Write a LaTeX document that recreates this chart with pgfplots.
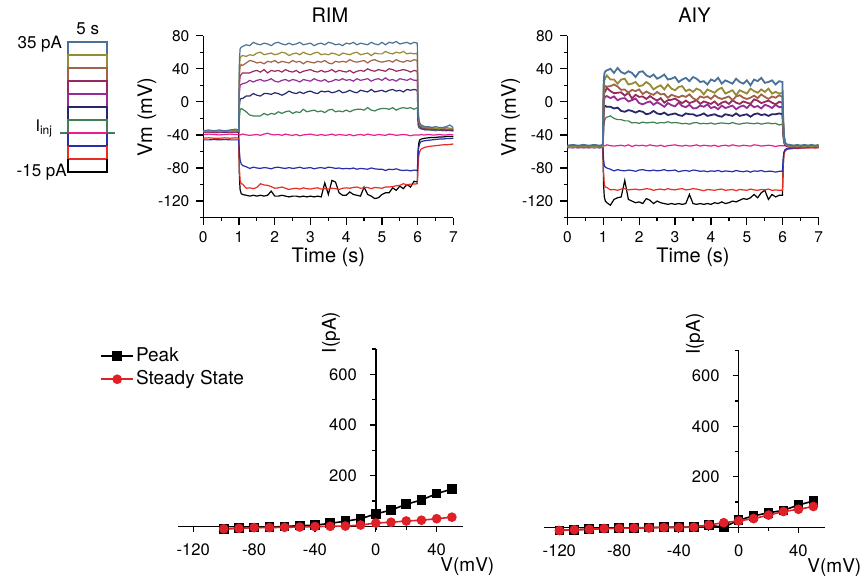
\documentclass[border=0pt]{standalone}
\usepackage{fontspec}
\setmainfont{TeX Gyre Heros}
\usepackage{pgfplots}
\usepackage{pgfplotstable}
\pgfplotsset{compat=1.18}
\newcommand{\fs}[1]{\fontsize{#1}{#1}\selectfont}

\definecolor{cA}{RGB}{74,114,150}
\definecolor{cB}{RGB}{150,138,52}
\definecolor{cC}{RGB}{160,98,72}
\definecolor{cD}{RGB}{150,42,92}
\definecolor{cE}{RGB}{150,45,150}
\definecolor{cF}{RGB}{40,40,105}
\definecolor{cG}{RGB}{62,128,84}
\definecolor{cH}{RGB}{232,30,140}
\definecolor{cI}{RGB}{40,45,170}
\definecolor{cJ}{RGB}{232,45,35}
\definecolor{cK}{RGB}{0,0,0}
\definecolor{ivred}{RGB}{222,32,40}

% membrane potential traces, one column per injected current (35 ... -15 pA)
\pgfplotstableread{
t a b c d e f g h i j k
0 -35 -36 -35 -37 -36 -37 -36 -39.5 -46 -44 -37
0.15 -34 -36 -36 -36 -37 -36 -35 -39 -46 -43.5 -36.5
0.3 -35 -35 -36 -37 -36 -37 -36 -39.5 -45.5 -44 -37
0.45 -34 -36 -35 -36 -37 -36 -36 -40 -46 -44 -37
0.6 -35 -35 -36 -36 -36 -37 -35 -39.5 -45.5 -43.5 -36.5
0.75 -34 -36 -35 -37 -36 -36 -36 -39 -46 -44 -37
0.9 -33 -35 -36 -36 -37 -36 -34 -39.5 -46 -43.5 -36
0.99 -34 -35 -35 -36 -36 -37 -35 -39.5 -46 -44 -37
1.01 50 40 30 20 10 -5 -20 -40 -60 -80 -90
1.03 64 53 43 31 20 3 -10 -40 -70 -95 -106
1.06 66 55 45 33 21 4 -8 -39.5 -75 -99 -111
1.1 67 56 44 35 22 4 -9 -39 -77 -99.5 -112
1.2 69 55 47 35 23 7 -12 -40 -78.5 -104.5 -113
1.3 68 57 50 35 26 7 -16 -40.5 -80.5 -104 -114
1.4 72 56 49 37 24 10 -17 -40 -79 -105 -113
1.5 70 59 47 38 26 8 -17 -39.5 -80 -103.5 -114
1.6 69 60 48 36 27 7 -17 -40.5 -80.5 -99 -113
1.7 71 57 46 39 25 10 -14 -39 -79.5 -100.5 -114
1.8 70 58 49 35 26 10 -16 -38 -80 -101 -113
1.9 68 59 48 38 28 9 -14 -39.5 -81 -102.5 -108
2.0 71 57 50 37 25 11 -15 -40 -79.5 -104.5 -114
2.1 72 58 47 38 24 10 -12 -39.5 -79 -104 -114
2.2 70 60 49 36 26 8 -14 -40.5 -80 -103 -113
2.3 69 59 48 39 27 10 -12 -39 -80.5 -104.5 -114
2.4 71 56 47 37 25 13 -11 -40 -79.5 -106 -115
2.5 69 58 50 36 27 11 -14 -40.5 -80.5 -105 -114
2.6 70 59 48 38 26 10 -12 -39.5 -80 -104.5 -114
2.7 72 57 49 35 24 12 -13 -41 -79 -105.5 -115
2.8 69 60 46 37 27 10 -9 -40 -80.5 -104 -114
2.9 70 58 49 38 26 12 -12 -39.5 -80 -105 -115
3.0 71 57 48 39 25 13 -11 -39 -79.5 -105.5 -114
3.1 68 59 47 37 28 11 -10 -40 -81 -104.5 -115
3.2 70 60 49 36 26 10 -12 -40.5 -80 -104 -114
3.3 71 57 48 38 25 13 -11 -39.5 -79.5 -105.5 -115
3.4 69 58 50 36 27 12 -13 -40.5 -80.5 -105 -98
3.5 72 57 47 37 24 13 -10 -40 -79 -105.5 -112
3.6 71 59 46 39 25 11 -9 -39 -79.5 -104.5 -95
3.7 69 58 49 36 27 12 -12 -40.5 -80.5 -105 -97
3.8 70 56 48 38 26 14 -11 -39.5 -80 -106 -110
3.9 68 59 49 37 28 11 -12 -40 -81 -104.5 -113
4.0 71 58 48 36 26 12 -10 -40.5 -80.5 -104 -113
4.1 70 57 51 38 27 14 -12 -39.5 -81 -104.5 -109
4.2 72 59 49 35 25 12 -10 -41 -80 -103.5 -112
4.3 69 60 48 37 28 11 -9 -40 -81.5 -103 -113
4.4 71 57 49 38 26 14 -9 -39.5 -80.5 -104.5 -114
4.5 70 58 50 37 27 13 -10 -40.5 -81 -104 -103
4.6 69 59 47 40 28 12 -7 -39 -81.5 -103.5 -112
4.7 72 56 50 38 25 15 -10 -40 -80 -105 -114
4.8 70 59 51 37 27 12 -11 -40.5 -81 -103.5 -117
4.9 69 58 49 39 28 13 -9 -39.5 -81.5 -104 -116
5.0 72 58 48 38 26 14 -8 -40 -81.5 -104.5 -112
5.1 69 61 49 37 29 12 -8 -40.5 -83 -103 -110
5.2 72 59 50 40 26 14 -9 -39 -81.5 -103 -110
5.3 71 58 48 39 27 15 -7 -39.5 -82 -102.5 -104
5.4 73 60 51 37 25 13 -10 -40.5 -81 -101.5 -107
5.5 70 59 49 38 28 14 -8 -40 -82.5 -101 -102
5.6 71 61 48 39 27 12 -7 -39.5 -83 -99 -105
5.7 72 58 50 38 26 15 -8 -40 -82.5 -100.5 -100
5.8 70 59 49 36 28 14 -7 -41 -83.5 -99.5 -103
5.9 72 58 51 38 26 15 -9 -40 -82.5 -99.5 -96
5.99 71 59 50 37 26 14 -7 -40 -83 -99 -97
6.01 -5 -8 -12 -15 -18 -22 -28 -40 -65 -80 -60
6.03 -20 -21 -23 -24 -25 -27 -31 -40 -55 -65 -50
6.06 -26 -27 -28 -28 -29 -30 -32 -40 -50 -60 -46
6.1 -28 -29 -30 -30 -31 -32 -33 -39.5 -48 -57 -45
6.15 -29 -30 -31 -31 -32 -33 -33 -40 -47.5 -56 -44.5
6.2 -30 -31 -31 -32 -32 -33 -34 -40 -47 -55 -44
6.3 -30 -31 -32 -32 -33 -33 -34 -39.5 -46.5 -54 -43.5
6.4 -31 -31 -32 -33 -33 -34 -34 -40 -46 -53.5 -43
6.5 -30 -32 -32 -33 -34 -33 -35 -40 -45.5 -53 -43
6.6 -31 -32 -33 -33 -33 -34 -34 -39.5 -45 -52.5 -42.5
6.7 -31 -32 -32 -34 -34 -34 -35 -40 -45 -52 -42.5
6.8 -30 -31 -33 -33 -34 -35 -34 -40 -44.5 -52 -42
6.9 -28 -32 -33 -34 -33 -34 -35 -39.5 -44.5 -51.5 -42
7.0 -31 -32 -33 -33 -34 -35 -35 -40 -44 -51 -42
}\rimdata

\pgfplotstableread{
t a b c d e f g h i j k
0 -53 -54 -54 -55 -54 -55 -54 -54 -55 -55.5 -55
0.15 -52 -55 -53 -54 -55 -54 -55 -53.5 -55.5 -55 -54.5
0.3 -53 -54 -54 -55 -54 -55 -54 -54 -55 -55.5 -55
0.45 -52 -53 -55 -54 -55 -54 -55 -53.5 -55.5 -55 -55
0.6 -53 -54 -54 -55 -54 -55 -54 -54 -55 -55.5 -54.5
0.75 -52 -55 -53 -54 -55 -54 -55 -53.5 -55.5 -55 -55
0.9 -53 -54 -54 -55 -54 -55 -54 -54 -55 -55.5 -55
0.99 -52 -54 -54 -54 -55 -55 -54 -54 -55 -55 -55
1.01 20 12 5 0 -5 -15 -30 -53 -70 -85 -100
1.03 34 26 17 11 4 -6 -24 -53 -77 -100 -115
1.06 37 29 19 13 6 -5 -20 -53 -79 -103 -120
1.1 38 32 18.5 17 7 -6 -18.5 -52 -80 -103.5 -122
1.2 40 27 19 13 4.5 -6 -17 -53 -81.5 -106.5 -125
1.3 35 27 21 10.5 6.5 -8 -20 -53.5 -83.5 -106 -118
1.4 41 22 18.5 11 2 -7 -21.5 -53 -82 -107 -116
1.5 36 27 14.5 11.5 4 -11 -21.5 -52.5 -83 -105.5 -115
1.6 34 28 15 7.5 4.5 -12 -23 -53.5 -83.5 -105 -95
1.7 37 21 11 11 0.5 -10 -23 -52 -82.5 -106.5 -118
1.8 35 22 14.5 4 2 -11 -25.5 -54 -83 -106 -120
1.9 30 24 13 8.5 4 -13 -25 -52.5 -84 -105.5 -122
2.0 36 19 15 6 -1.5 -11 -26 -53 -82.5 -106.5 -121
2.1 37 20 9.5 6.5 -3 -12 -24.5 -52.5 -82 -106 -123
2.2 32 24 12.5 3.5 -1 -15 -25.5 -53.5 -83 -105 -117
2.3 30 21 10 7 0.5 -14 -25 -52 -83.5 -105.5 -119
2.4 33 15 8.5 4 -3.5 -11 -24.5 -53 -82.5 -107 -123
2.5 28 18 12 1.5 -0.5 -14 -26 -53.5 -83.5 -106 -120
2.6 30 20 9 4.5 -3 -15 -25 -52.5 -83 -105.5 -122
2.7 33 15 9.5 -1 -6 -13 -25.5 -54 -82 -106.5 -123
2.8 27 21 5 2 -1.5 -16 -24 -53 -83.5 -105 -124
2.9 28 16 8.5 2.5 -4 -15 -25.5 -52.5 -83 -106 -123
3.0 30 14 7 4 -5.5 -14 -25 -52 -82.5 -106.5 -124
3.1 24 18 5.5 1 -1 -16 -25.5 -53 -84.5 -105.5 -123
3.2 27 19 7.5 -1.5 -5 -17 -26.5 -53.5 -83.5 -105 -124
3.3 29 13 6 1.5 -6.5 -14 -26 -52.5 -83 -106.5 -123
3.4 25 15 9 -1.5 -3.5 -15 -27 -53.5 -84 -106 -112
3.5 30 12 4.5 0 -8 -15 -25.5 -53 -82.5 -105 -123
3.6 28 16 2 2 -7.5 -17 -25 -52 -83 -105.5 -124
3.7 24 14 6.5 -2.5 -4.5 -16 -26.5 -53.5 -84 -106.5 -123
3.8 25 9 5 0.5 -6 -14 -26 -52.5 -83.5 -107.5 -124
3.9 21 15 6.5 -1 -3 -17 -26.5 -53 -84.5 -106 -123
4.0 27 13 3.5 -2.5 -7.5 -16 -25.5 -53.5 -83.5 -106.5 -124
4.1 25 11 8 0.5 -6 -15 -27 -52.5 -84 -107 -122
4.2 29 15 5 -4 -9 -17 -26 -54 -83 -106 -123
4.3 22 17 3.5 -1 -4.5 -18 -25.5 -53 -84.5 -105.5 -121
4.4 26 10 5 0.5 -7.5 -15 -26 -52.5 -83.5 -107 -123
4.5 24 12 6.5 -2.5 -6 -16 -26.5 -53.5 -84 -106.5 -122
4.6 22 14 2 2 -4.5 -17 -25 -52 -84.5 -106 -120
4.7 28 8 6.5 -1 -9 -14 -26.5 -53 -83 -107.5 -121
4.8 24 14 8 -2.5 -6 -17 -27 -53.5 -84 -106 -119
4.9 22 12 5 0.5 -4.5 -16 -26 -52.5 -84.5 -106.5 -117
5.0 26 10 3.5 -1 -7.5 -15 -25.5 -53 -83.5 -107 -118
5.1 20 16 5 -2.5 -3 -18 -26 -53.5 -85 -105.5 -116
5.2 27 13 7.5 3 -6.5 -15 -26.5 -52 -83.5 -106.5 -112
5.3 25 11 4.5 1.5 -5 -14 -25.5 -52.5 -84 -107 -116
5.4 29 15 9 -1.5 -8 -16 -27 -53.5 -83 -106 -110
5.5 23 12 6 0 -3.5 -15 -26 -53 -84.5 -106.5 -107
5.6 24 16 3.5 1.5 -5 -17 -25.5 -52.5 -84 -105.5 -118
5.7 26 10 6.5 -1 -7.5 -15 -26.5 -53 -84 -107 -112
5.8 21 12 5 -3 -3.5 -15 -26 -54 -85 -106.5 -115
5.9 25 10 8 0 -6.5 -14 -28 -53 -84 -107 -113
5.99 24 11 6 -1 -6 -15 -27 -53 -84 -107 -113
6.01 -20 -22 -25 -28 -30 -33 -40 -53 -68 -78 -80
6.03 -40 -41 -42 -44 -45 -46 -48 -53 -61 -64 -63
6.06 -49 -50 -50 -51 -51 -52 -52 -53 -58 -60 -59
6.1 -51 -52 -52 -53 -53 -53 -53 -53 -57 -58 -57
6.15 -52 -53 -53 -53 -54 -54 -54 -53.5 -56.5 -57 -56.5
6.2 -52 -53 -54 -54 -54 -54 -54 -53 -56 -57 -56
6.3 -53 -53 -54 -54 -55 -54 -54 -53.5 -56 -56.5 -55.5
6.4 -52 -54 -53 -54 -54 -55 -54 -54 -55.5 -56.5 -55.5
6.5 -53 -53 -54 -55 -54 -54 -55 -53.5 -55.5 -56 -55
6.6 -52 -54 -54 -54 -55 -55 -54 -54 -55.5 -56 -55
6.7 -53 -53 -53 -54 -54 -54 -55 -53.5 -55 -56 -55
6.8 -52 -54 -54 -55 -54 -55 -54 -54 -55 -55.5 -55
6.9 -53 -53 -54 -54 -55 -54 -54 -53.5 -55 -56 -55
7.0 -52 -54 -53 -54 -54 -55 -55 -54 -55 -55.5 -55
}\aiydata

\pgfplotsset{
  trace/.style={
    scale only axis, height=90.95pt,
    axis x line*=bottom, axis y line*=left,
    xmin=0, xmax=7, ymin=-140, ymax=80,
    xtick={0,...,7}, minor xtick={0.5,1.5,...,6.5},
    ytick={-120,-80,...,80}, minor ytick={-140,-100,...,60},
    tick align=outside, major tick length=3.5pt, minor tick length=1.8pt,
    tick style={black,line width=0.6pt},
    axis line style={line width=0.7pt},
    tick label style={font=\fs{7.75}},
    /pgf/number format/assume math mode=true,
    every axis title shift=0pt,
    title style={at={(axis description cs:0.506,1.114)},anchor=center,font=\fs{10}},
    every axis x label/.style={at={(axis description cs:0.5,-0.22)},anchor=center,font=\fs{10}},
    every axis y label/.style={at={(axis description cs:-0.225,0.553)},rotate=90,anchor=center,font=\fs{10}},
    xlabel={Time (s)}, ylabel={Vm (mV)},
  },
  iv/.style={
    scale only axis, axis lines=middle,
    ymin=-15, ymax=700,
    xtick={-120,-80,-40,0,40}, minor xtick={-100,-60,-20,20},
    ytick={200,400,600}, minor ytick={100,300,500,700},
    hide obscured x ticks=false,
    tick align=outside, major tick length=3pt, minor tick length=1.8pt,
    tick style={black,line width=0.6pt},
    axis line style={line width=0.7pt,-},
    tick label style={font=\fs{8.3}},
    xticklabel style={yshift=-2pt},
    yticklabel style={xshift=-3pt},
    /pgf/number format/assume math mode=true,
    clip=false,
  },
  thin trace/.style={line width=0.6pt},
  thick trace/.style={line width=0.9pt},
  step/.style={line width=0.9pt},
}

\begin{document}
\begin{tikzpicture}
\path[use as bounding box] (0,0) rectangle (432.5pt,-291.5pt);

% current step protocol
\begin{axis}[at={(34.15pt,-85.85pt)},anchor=south west,scale only axis,
  width=19.5pt,height=65pt,xmin=0,xmax=5,ymin=-15,ymax=35,hide axis,clip=false]
  \addplot[cG,step] coordinates {(-1.06,0)(5.99,0)};
  \addplot[cA,step] coordinates {(0,30)(0,35)(5,35)(5,30)};
  \addplot[cB,step] coordinates {(0,25)(0,30)(5,30)(5,25)};
  \addplot[cC,step] coordinates {(0,20)(0,25)(5,25)(5,20)};
  \addplot[cD,step] coordinates {(0,15)(0,20)(5,20)(5,15)};
  \addplot[cE,step] coordinates {(0,10)(0,15)(5,15)(5,10)};
  \addplot[cF,step] coordinates {(0,5)(0,10)(5,10)(5,5)};
  \addplot[cG,step] coordinates {(0,0)(0,5)(5,5)(5,0)};
  \addplot[cI,step] coordinates {(0,0)(0,-5)(5,-5)(5,0)};
  \addplot[cJ,step] coordinates {(0,-5)(0,-10)(5,-10)(5,-5)};
  \addplot[cK,step] coordinates {(0,-10)(0,-15)(5,-15)(5,-10)};
  \addplot[cH,step] coordinates {(0,0)(5,0)};
  \node[font=\fs{8.5}] at (axis cs:2.5,39.8) {5 s};
  \node[font=\fs{8.5},anchor=east,inner sep=0pt] at (axis cs:-0.75,34) {35 pA};
  \node[font=\fs{8.5},anchor=east,inner sep=0pt] at (axis cs:-0.15,-15.3) {-15 pA};
  \node[font=\fs{8},anchor=base east,inner sep=0pt] at (axis cs:-1.9,0.5) {I\textsubscript{inj}};
\end{axis}

% RIM voltage traces
\begin{axis}[trace,at={(101.65pt,-108.8pt)},anchor=south west,width=125.05pt,title={RIM}]
  \addplot[cK,thin trace] table[x=t,y=k]{\rimdata};
  \addplot[cJ,thin trace] table[x=t,y=j]{\rimdata};
  \addplot[cI,thin trace] table[x=t,y=i]{\rimdata};
  \addplot[cH,thin trace] table[x=t,y=h]{\rimdata};
  \addplot[cG,thin trace] table[x=t,y=g]{\rimdata};
  \addplot[cF,thin trace] table[x=t,y=f]{\rimdata};
  \addplot[cE,thin trace] table[x=t,y=e]{\rimdata};
  \addplot[cD,thin trace] table[x=t,y=d]{\rimdata};
  \addplot[cC,thin trace] table[x=t,y=c]{\rimdata};
  \addplot[cB,thin trace] table[x=t,y=b]{\rimdata};
  \addplot[cA,thin trace] table[x=t,y=a]{\rimdata};
\end{axis}

% AIY voltage traces
\begin{axis}[trace,at={(283.65pt,-108.8pt)},anchor=south west,width=125.7pt,title={AIY}]
  \addplot[cK,thin trace] table[x=t,y=k]{\aiydata};
  \addplot[cJ,thin trace] table[x=t,y=j]{\aiydata};
  \addplot[cI,thin trace] table[x=t,y=i]{\aiydata};
  \addplot[cH,thin trace] table[x=t,y=h]{\aiydata};
  \addplot[cG,thin trace] table[x=t,y=g]{\aiydata};
  \addplot[cF,thick trace] table[x=t,y=f]{\aiydata};
  \addplot[cE,thick trace] table[x=t,y=e]{\aiydata};
  \addplot[cD,thick trace] table[x=t,y=d]{\aiydata};
  \addplot[cC,thick trace] table[x=t,y=c]{\aiydata};
  \addplot[cB,thick trace] table[x=t,y=b]{\aiydata};
  \addplot[cA,thick trace] table[x=t,y=a]{\aiydata};
\end{axis}

% RIM I-V
\begin{axis}[iv,at={(89.05pt,-265.05pt)},anchor=south west,width=142.2pt,height=90.55pt,
  xmin=-130,xmax=57,
  legend style={draw=none,fill=none,at={(axis description cs:-0.2746,1.022)},anchor=north west,
    font=\fs{9.5},inner sep=0pt,row sep=1.2pt,nodes={inner sep=1pt}},
  legend cell align=left,
  legend image code/.code={\draw[mark repeat=2,mark phase=2,#1] plot coordinates {(0pt,0pt)(8pt,0pt)(16pt,0pt)};}]
  \addplot[black,line width=0.8pt,mark=square*,mark size=2pt] coordinates {
    (-100,-10)(-90,-7)(-80,-4)(-70,-3)(-60,-1)(-50,3)(-40,4)(-30,12)(-20,20)(-10,30)
    (0,49)(10,64)(20,87)(30,104)(40,129)(50,147)};
  \addlegendentry{Peak}
  \addplot[ivred,line width=0.8pt,mark=*,mark size=2pt] coordinates {
    (-100,-10)(-90,-8)(-80,-5)(-70,-5)(-60,-4)(-50,-3)(-40,-1)(-30,0)(-20,1)(-10,5)
    (0,13)(10,16)(20,21)(30,24)(40,30)(50,36)};
  \addlegendentry{Steady State}
  \node[rotate=90,font=\fs{9.5},inner sep=0pt] at (axis description cs:0.5376,1.091) {I(pA)};
  \node[anchor=west,font=\fs{9.5},inner sep=0pt] at (axis description cs:0.921,-0.204) {V(mV)};
\end{axis}

% AIY I-V
\begin{axis}[iv,at={(272.2pt,-265.5pt)},anchor=south west,width=140.45pt,height=90.25pt,
  xmin=-130,xmax=58]
  \addplot[black,line width=0.8pt,mark=square*,mark size=2pt] coordinates {
    (-120,-13)(-110,-10)(-100,-8)(-90,-5)(-80,-4)(-70,-3)(-60,-1)(-50,0)(-40,0)(-30,1)
    (-20,8)(-10,0)(0,28)(10,45)(20,57)(30,67)(40,88)(50,104)};
  \addplot[ivred,line width=0.8pt,mark=*,mark size=2pt] coordinates {
    (-120,-13)(-110,-10)(-100,-8)(-90,-5)(-80,-4)(-70,-3)(-60,-3)(-50,-1)(-40,-1)(-30,0)
    (-20,9)(-10,18)(0,25)(10,34)(20,48)(30,62)(40,71)(50,82)};
  \node[rotate=90,font=\fs{9.5},inner sep=0pt] at (axis description cs:0.536,1.091) {I(pA)};
  \node[anchor=west,font=\fs{9.5},inner sep=0pt] at (axis description cs:0.935,-0.205) {V(mV)};
\end{axis}
\end{tikzpicture}
\end{document}
